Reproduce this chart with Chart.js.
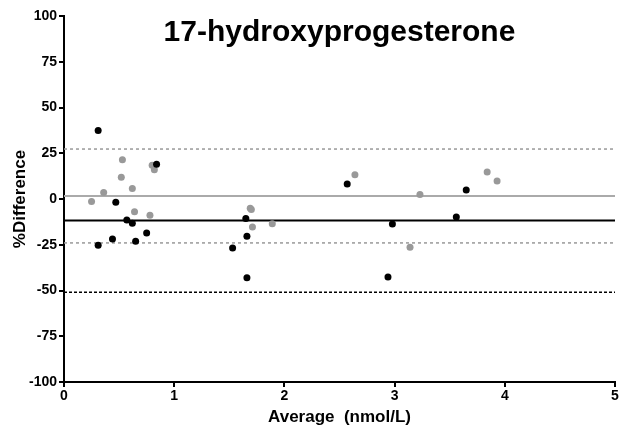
<!DOCTYPE html>
<html>
<head>
<meta charset="utf-8">
<script src="https://cdn.jsdelivr.net/npm/chart.js@4"></script>
<style>
  html, body { margin: 0; padding: 0; background: #fff; }
  #wrap { width: 620px; height: 428px; }
</style>
</head>
<body>
<div id="wrap"><canvas id="chart" width="620" height="428"></canvas></div>
<script>
// valores (média x % diferença)
const blackX = [0.31, 0.31, 0.47, 0.44, 0.57, 0.62, 0.65, 0.75, 0.84, 1.53, 1.65, 1.66, 1.66, 2.57, 2.98, 2.94, 3.65, 3.56];
const blackY = [37.5, -25.3, -1.8, -21.9, -11.5, -13.3, -23.1, -18.6, 19.0, -26.8, -10.7, -20.4, -43.0, 8.2, -13.7, -42.6, 4.9, -9.8];
const grayX = [0.25, 0.36, 0.53, 0.52, 0.62, 0.64, 0.78, 0.80, 0.82, 1.69, 1.70, 1.71, 1.89, 2.64, 3.23, 3.14, 3.84, 3.93];
const grayY = [-1.3, 3.5, 21.5, 11.9, 5.8, -6.9, -8.9, 18.4, 16.0, -5.1, -5.8, -15.3, -13.5, 13.3, 2.4, -26.4, 14.7, 9.8];

// linhas de referência (viés e limites)
const lineX = [0, 5];
const grayBias = 1.6;
const grayLimits = [27.3, -24.0];
const blackBias = -11.8;
const blackLower = -51.0;

const yTicks = [-100, -75, -50, -25, 0, 25, 50, 75, 100];
const xTicks = [0, 1, 2, 3, 4, 5];

const pts = (xs, ys) => xs.map((x, i) => ({ x: x, y: ys[i] }));
const hline = y => lineX.map(x => ({ x: x, y: y }));

const tickFont = { family: 'Liberation Sans Narrow, Liberation Sans, Arial', size: 14, weight: 'bold' };

// título dentro da área do gráfico
const titlePlugin = {
    id: 'insideTitle',
    afterDraw(chart) {
        const { ctx, chartArea } = chart;
        ctx.save();
        ctx.fillStyle = '#000';
        ctx.font = 'bold 30px "Liberation Sans", Arial';
        ctx.textAlign = 'center';
        ctx.textBaseline = 'middle';
        ctx.fillText('17-hydroxyprogesterone', (chartArea.left + chartArea.right) / 2, 33);
        ctx.restore();
    }
};

const ctx = document.getElementById('chart').getContext('2d');
const chart = new Chart(ctx, {
    type: 'scatter',
    data: {
        datasets: [
            { data: pts(blackX, blackY), backgroundColor: '#000', borderWidth: 0, pointRadius: 3.5, order: 0 },
            { data: pts(grayX, grayY), backgroundColor: '#999', borderWidth: 0, pointRadius: 3.5, order: 1 },
            { type: 'line', data: hline(grayBias), borderColor: '#aaa', borderWidth: 2, pointRadius: 0, order: 3 },
            { type: 'line', data: hline(grayLimits[0]), borderColor: '#999', borderWidth: 1.5, borderDash: [3, 3], pointRadius: 0, order: 3 },
            { type: 'line', data: hline(grayLimits[1]), borderColor: '#999', borderWidth: 1.5, borderDash: [3, 3], pointRadius: 0, order: 3 },
            { type: 'line', data: hline(blackBias), borderColor: '#000', borderWidth: 2, pointRadius: 0, order: 2 },
            { type: 'line', data: hline(blackLower), borderColor: '#000', borderWidth: 1.5, borderDash: [3, 2], pointRadius: 0, order: 2 }
        ]
    },
    options: {
        responsive: false,
        animation: false,
        layout: { padding: { top: 16, right: 5, left: 0, bottom: 0 } },
        plugins: {
            legend: { display: false },
            tooltip: { enabled: false }
        },
        scales: {
            x: {
                type: 'linear',
                min: 0,
                max: 5,
                afterBuildTicks: s => { s.ticks = xTicks.map(v => ({ value: v })); },
                afterFit: s => { s.height = 46; },
                grid: { drawOnChartArea: false, drawTicks: true, tickLength: 5, color: '#000', lineWidth: 2 },
                border: { display: true, color: '#000', width: 2 },
                ticks: { color: '#000', font: tickFont, padding: 1, maxRotation: 0 },
                title: { display: true, text: 'Average  (nmol/L)', color: '#000', font: { family: 'Liberation Sans, Arial', size: 17, weight: 'bold' }, padding: 0 }
            },
            y: {
                min: -100,
                max: 100,
                afterBuildTicks: s => { s.ticks = yTicks.map(v => ({ value: v })); },
                afterFit: s => { s.width = 64; },
                grid: { drawOnChartArea: false, drawTicks: true, tickLength: 5, color: '#000', lineWidth: 2 },
                border: { display: true, color: '#000', width: 2 },
                ticks: { color: '#000', font: tickFont, padding: 2 },
                title: { display: true, text: '%Difference', color: '#000', font: { family: 'Liberation Sans, Arial', size: 17, weight: 'bold' }, padding: 10 }
            }
        }
    },
    plugins: [titlePlugin]
});
</script>
</body>
</html>
